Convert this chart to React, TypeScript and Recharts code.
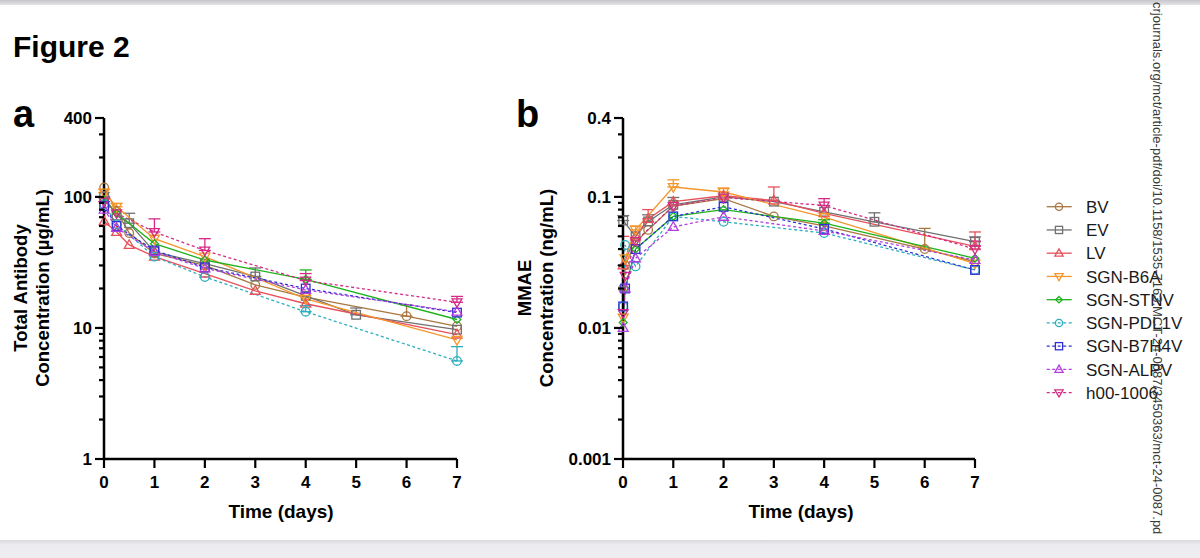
import React from 'react';
import { LineChart, Line, XAxis, YAxis, ErrorBar, Legend } from 'recharts';

const FONT = "'Liberation Sans', Arial, Helvetica, sans-serif";

// series metadata
const seriesNames = ['BV', 'EV', 'LV', 'SGN-B6A', 'SGN-STNV', 'SGN-PDL1V', 'SGN-B7H4V', 'SGN-ALPV', 'h00-1006'];
const seriesColors = ['#a8773f', '#707070', '#e8505b', '#f5962a', '#1db21d', '#2aaebd', '#2f2fd2', '#b33ee0', '#d42a86'];
const seriesShapes = ['circle', 'square', 'triangle', 'triangleDown', 'diamond', 'circle', 'square', 'triangle', 'triangleDown'];
const seriesDashed = [false, false, false, false, false, true, true, true, true];

// panel a: total antibody (ug/mL)
const timesA = [0.0035, 0.25, 0.5, 1, 2, 3, 4, 5, 6, 7];
const bvA = [118, 78, 53, 37, 30, 21.3, 17.2, null, 12.3, 10.3];
const evA = [100, 72, 63, 38, 31, 24.7, 17.6, 12.6, null, 9.7];
const lvA = [65, 54, 43, 35, 26, 19.2, 15.3, null, null, 8.9];
const b6aA = [108, 84, null, 48, 35, null, 16.7, null, null, 8.1];
const stnvA = [95, 75, null, 44, 33, null, 23.5, null, null, 11.6];
const pdl1vA = [88, 62, null, 35, 24.5, null, 13.3, null, null, 5.6];
const b7h4vA = [85, 60, null, 39, 29, null, 20, null, null, 13.1];
const alpvA = [80, 58, null, 38, 28.5, null, 19.5, null, null, 13.3];
const h00A = [92, 75, null, 54, 39, null, 23, null, null, 15.7];

const bvAErr = [null, null, null, null, null, null, null, null, 2.7, null];
const evAErr = [null, null, 12, null, null, 4, null, 1.6, null, null];
const lvAErr = [null, null, null, null, null, null, null, null, null, null];
const b6aAErr = [6, 5, null, null, null, null, null, null, null, null];
const stnvAErr = [null, null, null, null, null, null, 4.2, null, null, null];
const pdl1vAErr = [null, null, null, null, null, null, 1.5, null, null, 1.6];
const b7h4vAErr = [null, null, null, null, null, null, null, null, null, null];
const alpvAErr = [null, null, null, null, null, null, null, null, null, null];
const h00AErr = [8, null, null, 14, 9, null, 3, null, null, 1.7];

// panel b: MMAE (ng/mL)
const timesB = [0.0035, 0.042, 0.25, 0.5, 1, 2, 3, 4, 5, 6, 7];
const bvB = [0.02, 0.03, 0.045, 0.056, 0.085, 0.097, 0.071, 0.06, null, 0.04, 0.032];
const evB = [0.066, null, 0.05, 0.065, 0.087, 0.1, 0.092, 0.077, 0.0646, null, 0.0455];
const lvB = [0.03, null, 0.05, 0.068, 0.092, 0.102, 0.094, 0.075, null, null, 0.042];
const b6aB = [0.012, 0.034, 0.056, null, 0.119, 0.109, null, 0.07, null, null, 0.031];
const stnvB = [0.011, 0.02, 0.04, null, 0.071, 0.08, null, 0.063, null, null, 0.034];
const pdl1vB = [0.0146, 0.043, 0.0295, null, 0.071, 0.0646, null, 0.053, null, null, 0.0277];
const b7h4vB = [0.0146, 0.02, 0.04, null, 0.071, 0.084, null, 0.057, null, null, 0.0277];
const alpvB = [0.01, 0.02, 0.034, null, 0.059, 0.0705, null, 0.055, null, null, 0.033];
const h00B = [0.013, 0.025, 0.046, null, 0.085, 0.099, null, 0.086, null, null, 0.04];

const bvBErr = [null, null, null, null, null, null, null, null, null, 0.0175, null];
const evBErr = [0.006, null, null, 0.008, 0.012, null, null, null, 0.011, null, 0.004];
const lvBErr = [0.02, null, null, 0.012, null, null, 0.025, null, null, null, 0.012];
const b6aBErr = [null, null, 0.004, null, 0.016, 0.008, null, null, null, null, null];
const stnvBErr = [null, null, null, null, null, null, null, 0.004, null, null, null];
const pdl1vBErr = [null, null, null, null, null, null, null, null, null, null, null];
const b7h4vBErr = [null, null, null, null, null, null, null, null, null, null, null];
const alpvBErr = [null, null, null, null, null, null, null, null, null, null, null];
const h00BErr = [null, null, null, null, null, null, null, 0.011, null, null, 0.006];

// axis ticks
const xTicks = [0, 1, 2, 3, 4, 5, 6, 7];
const yTicksA = [1, 2, 3, 4, 5, 6, 7, 8, 9, 10, 20, 30, 40, 50, 60, 70, 80, 90, 100, 200, 300, 400];
const yMajorA = [1, 10, 100, 400];
const yTicksB = [0.001, 0.002, 0.003, 0.004, 0.005, 0.006, 0.007, 0.008, 0.009, 0.01, 0.02, 0.03, 0.04, 0.05, 0.06, 0.07, 0.08, 0.09, 0.1, 0.2, 0.3, 0.4];
const yMajorB = [0.001, 0.01, 0.1, 0.4];

const valuesA = [bvA, evA, lvA, b6aA, stnvA, pdl1vA, b7h4vA, alpvA, h00A];
const errorsA = [bvAErr, evAErr, lvAErr, b6aAErr, stnvAErr, pdl1vAErr, b7h4vAErr, alpvAErr, h00AErr];
const valuesB = [bvB, evB, lvB, b6aB, stnvB, pdl1vB, b7h4vB, alpvB, h00B];
const errorsB = [bvBErr, evBErr, lvBErr, b6aBErr, stnvBErr, pdl1vBErr, b7h4vBErr, alpvBErr, h00BErr];

function buildRows(times: number[], values: (number | null)[][], errors: (number | null)[][]) {
  return times.map((t, r) => {
    const row: any = { t };
    values.forEach((vals, i) => {
      row['s' + i] = vals[r];
      const e = errors[i][r];
      row['e' + i] = e == null || vals[r] == null ? null : [0, e];
    });
    return row;
  });
}

const rowsA = buildRows(timesA, valuesA, errorsA);
const rowsB = buildRows(timesB, valuesB, errorsB);

function Marker({ shape, cx, cy, color, r }: any) {
  const common = { fill: 'none', stroke: color, strokeWidth: 1.3 };
  if (shape === 'circle') return <circle cx={cx} cy={cy} r={r} {...common} />;
  if (shape === 'square') return <rect x={cx - r} y={cy - r} width={2 * r} height={2 * r} {...common} />;
  if (shape === 'triangle')
    return <polygon points={`${cx},${cy - r * 1.2} ${cx + r * 1.15},${cy + r * 0.8} ${cx - r * 1.15},${cy + r * 0.8}`} {...common} />;
  if (shape === 'triangleDown')
    return <polygon points={`${cx},${cy + r * 1.2} ${cx + r * 1.15},${cy - r * 0.8} ${cx - r * 1.15},${cy - r * 0.8}`} {...common} />;
  const d = r * 0.9;
  return <polygon points={`${cx},${cy - d} ${cx + d},${cy} ${cx},${cy + d} ${cx - d},${cy}`} {...common} />;
}

function makeYTick(majors: number[]) {
  return (props: any) => {
    const { x, y, payload } = props;
    const major = majors.some((m) => Math.abs(m - payload.value) < m * 1e-6);
    const len = major ? 9 : 5;
    return (
      <g>
        <line x1={x - len} x2={x} y1={y} y2={y} stroke="#000" strokeWidth={2.2} />
        {major && (
          <text x={x - 12} y={y} dy="0.36em" textAnchor="end" fontFamily={FONT} fontWeight="bold" fontSize={17} fill="#000">
            {String(payload.value)}
          </text>
        )}
      </g>
    );
  };
}

const XTick = (props: any) => {
  const { x, y, payload } = props;
  return (
    <g>
      <line x1={x} x2={x} y1={y} y2={y + 9} stroke="#000" strokeWidth={2.2} />
      <text x={x} y={y + 29} textAnchor="middle" fontFamily={FONT} fontWeight="bold" fontSize={17} fill="#000">
        {payload.value}
      </text>
    </g>
  );
};

const LegendBox = () => (
  <svg width={150} height={200} style={{ overflow: 'visible', display: 'block' }}>
    {seriesNames.map((n, i) => {
      const y = 10.7 + i * 23.25;
      return (
        <g key={n}>
          <line x1={6.7} x2={31.7} y1={y} y2={y} stroke={seriesColors[i]} strokeWidth={1.3} strokeDasharray={seriesDashed[i] ? '3 2.5' : undefined} />
          <Marker shape={seriesShapes[i]} cx={19} cy={y} color={seriesColors[i]} r={3.6} />
          <text x={46} y={y} dy="0.36em" fontFamily={FONT} fontSize={17} fill="#1a1a1a">
            {n}
          </text>
        </g>
      );
    })}
  </svg>
);

function renderSeries() {
  return seriesNames.map((name, i) => (
    <Line
      key={name}
      name={name}
      dataKey={'s' + i}
      type="linear"
      stroke={seriesColors[i]}
      strokeWidth={1.3}
      strokeDasharray={seriesDashed[i] ? '3 2.5' : undefined}
      connectNulls
      isAnimationActive={false}
      activeDot={false}
      dot={(p: any) =>
        p.cy == null || p.value == null ? (
          <g key={p.key ?? 'd' + i + '-' + p.index} />
        ) : (
          <g key={p.key ?? 'd' + i + '-' + p.index}>
            <Marker shape={seriesShapes[i]} cx={p.cx} cy={p.cy} color={seriesColors[i]} r={4.3} />
          </g>
        )
      }
    >
      <ErrorBar dataKey={'e' + i} direction="y" width={6} stroke={seriesColors[i]} strokeWidth={1.3} isAnimationActive={false} />
    </Line>
  ));
}

const axisLineStyle = { stroke: '#000', strokeWidth: 2.5 };

function PanelA() {
  return (
    <LineChart width={480} height={540} data={rowsA} margin={{ top: 118, right: 23, bottom: 41, left: 44 }}>
      <XAxis dataKey="t" type="number" domain={[0, 7]} ticks={xTicks} interval={0} tickSize={0} tickMargin={0} tickLine={false} axisLine={axisLineStyle} tick={XTick} height={40} />
      <YAxis type="number" scale="log" domain={[1, 400]} ticks={yTicksA} interval={0} width={60} tickSize={0} tickMargin={0} tickLine={false} axisLine={axisLineStyle} tick={makeYTick(yMajorA)} />
      {renderSeries()}
    </LineChart>
  );
}

function PanelB() {
  return (
    <LineChart width={700} height={540} data={rowsB} margin={{ top: 118, right: 205, bottom: 41, left: 83 }}>
      <XAxis dataKey="t" type="number" domain={[0, 7]} ticks={xTicks} interval={0} tickSize={0} tickMargin={0} tickLine={false} axisLine={axisLineStyle} tick={XTick} height={40} />
      <YAxis type="number" scale="log" domain={[0.001, 0.4]} ticks={yTicksB} interval={0} width={60} tickSize={0} tickMargin={0} tickLine={false} axisLine={axisLineStyle} tick={makeYTick(yMajorB)} />
      {renderSeries()}
      <Legend layout="vertical" align="center" verticalAlign="middle" content={LegendBox} wrapperStyle={{ position: 'absolute', left: 560, top: 196, width: 150, height: 200 }} />
    </LineChart>
  );
}

export default function App() {
  const bold = { fontFamily: FONT, fontWeight: 'bold' as const, fill: '#000' };
  return (
    <div style={{ position: 'absolute', left: 0, top: 0, width: 1200, height: 558, background: '#fff', overflow: 'hidden' }}>
      <div style={{ position: 'absolute', left: 0, top: 0, width: 1200, height: 5, background: 'linear-gradient(#c6c6cb, #e4e4e8)' }} />
      <div style={{ position: 'absolute', left: 0, top: 0 }}>
        <PanelA />
      </div>
      <div style={{ position: 'absolute', left: 480, top: 0 }}>
        <PanelB />
      </div>
      <svg width={1200} height={558} style={{ position: 'absolute', left: 0, top: 0, pointerEvents: 'none' }}>
        <text x={13} y={57} fontSize={30} {...bold}>Figure 2</text>
        <text x={13} y={127} fontSize={38} {...bold}>a</text>
        <text x={516} y={127} fontSize={38} {...bold}>b</text>
        <text transform="translate(27,288) rotate(-90)" textAnchor="middle" fontSize={18.5} {...bold}>Total Antibody</text>
        <text transform="translate(49,288) rotate(-90)" textAnchor="middle" fontSize={18.5} {...bold}>Concentration (µg/mL)</text>
        <text transform="translate(531,288) rotate(-90)" textAnchor="middle" fontSize={18.5} {...bold}>MMAE</text>
        <text transform="translate(553,288) rotate(-90)" textAnchor="middle" fontSize={18.5} {...bold}>Concentration (ng/mL)</text>
        <text x={281} y={518} textAnchor="middle" fontSize={19} {...bold}>Time (days)</text>
        <text x={801} y={518} textAnchor="middle" fontSize={19} {...bold}>Time (days)</text>
        <text transform="translate(1153,2) rotate(90)" fontFamily={FONT} fontSize={13} fill="#3a3a3a">
          crjournals.org/mct/article-pdf/doi/10.1158/1535-7163.MCT-24-0087/3450363/mct-24-0087.pd
        </text>
      </svg>
      <div style={{ position: 'absolute', left: 0, top: 540, width: 1200, height: 18, background: 'linear-gradient(#dadade, #ececf0 5px, #eeeef2)' }} />
    </div>
  );
}
